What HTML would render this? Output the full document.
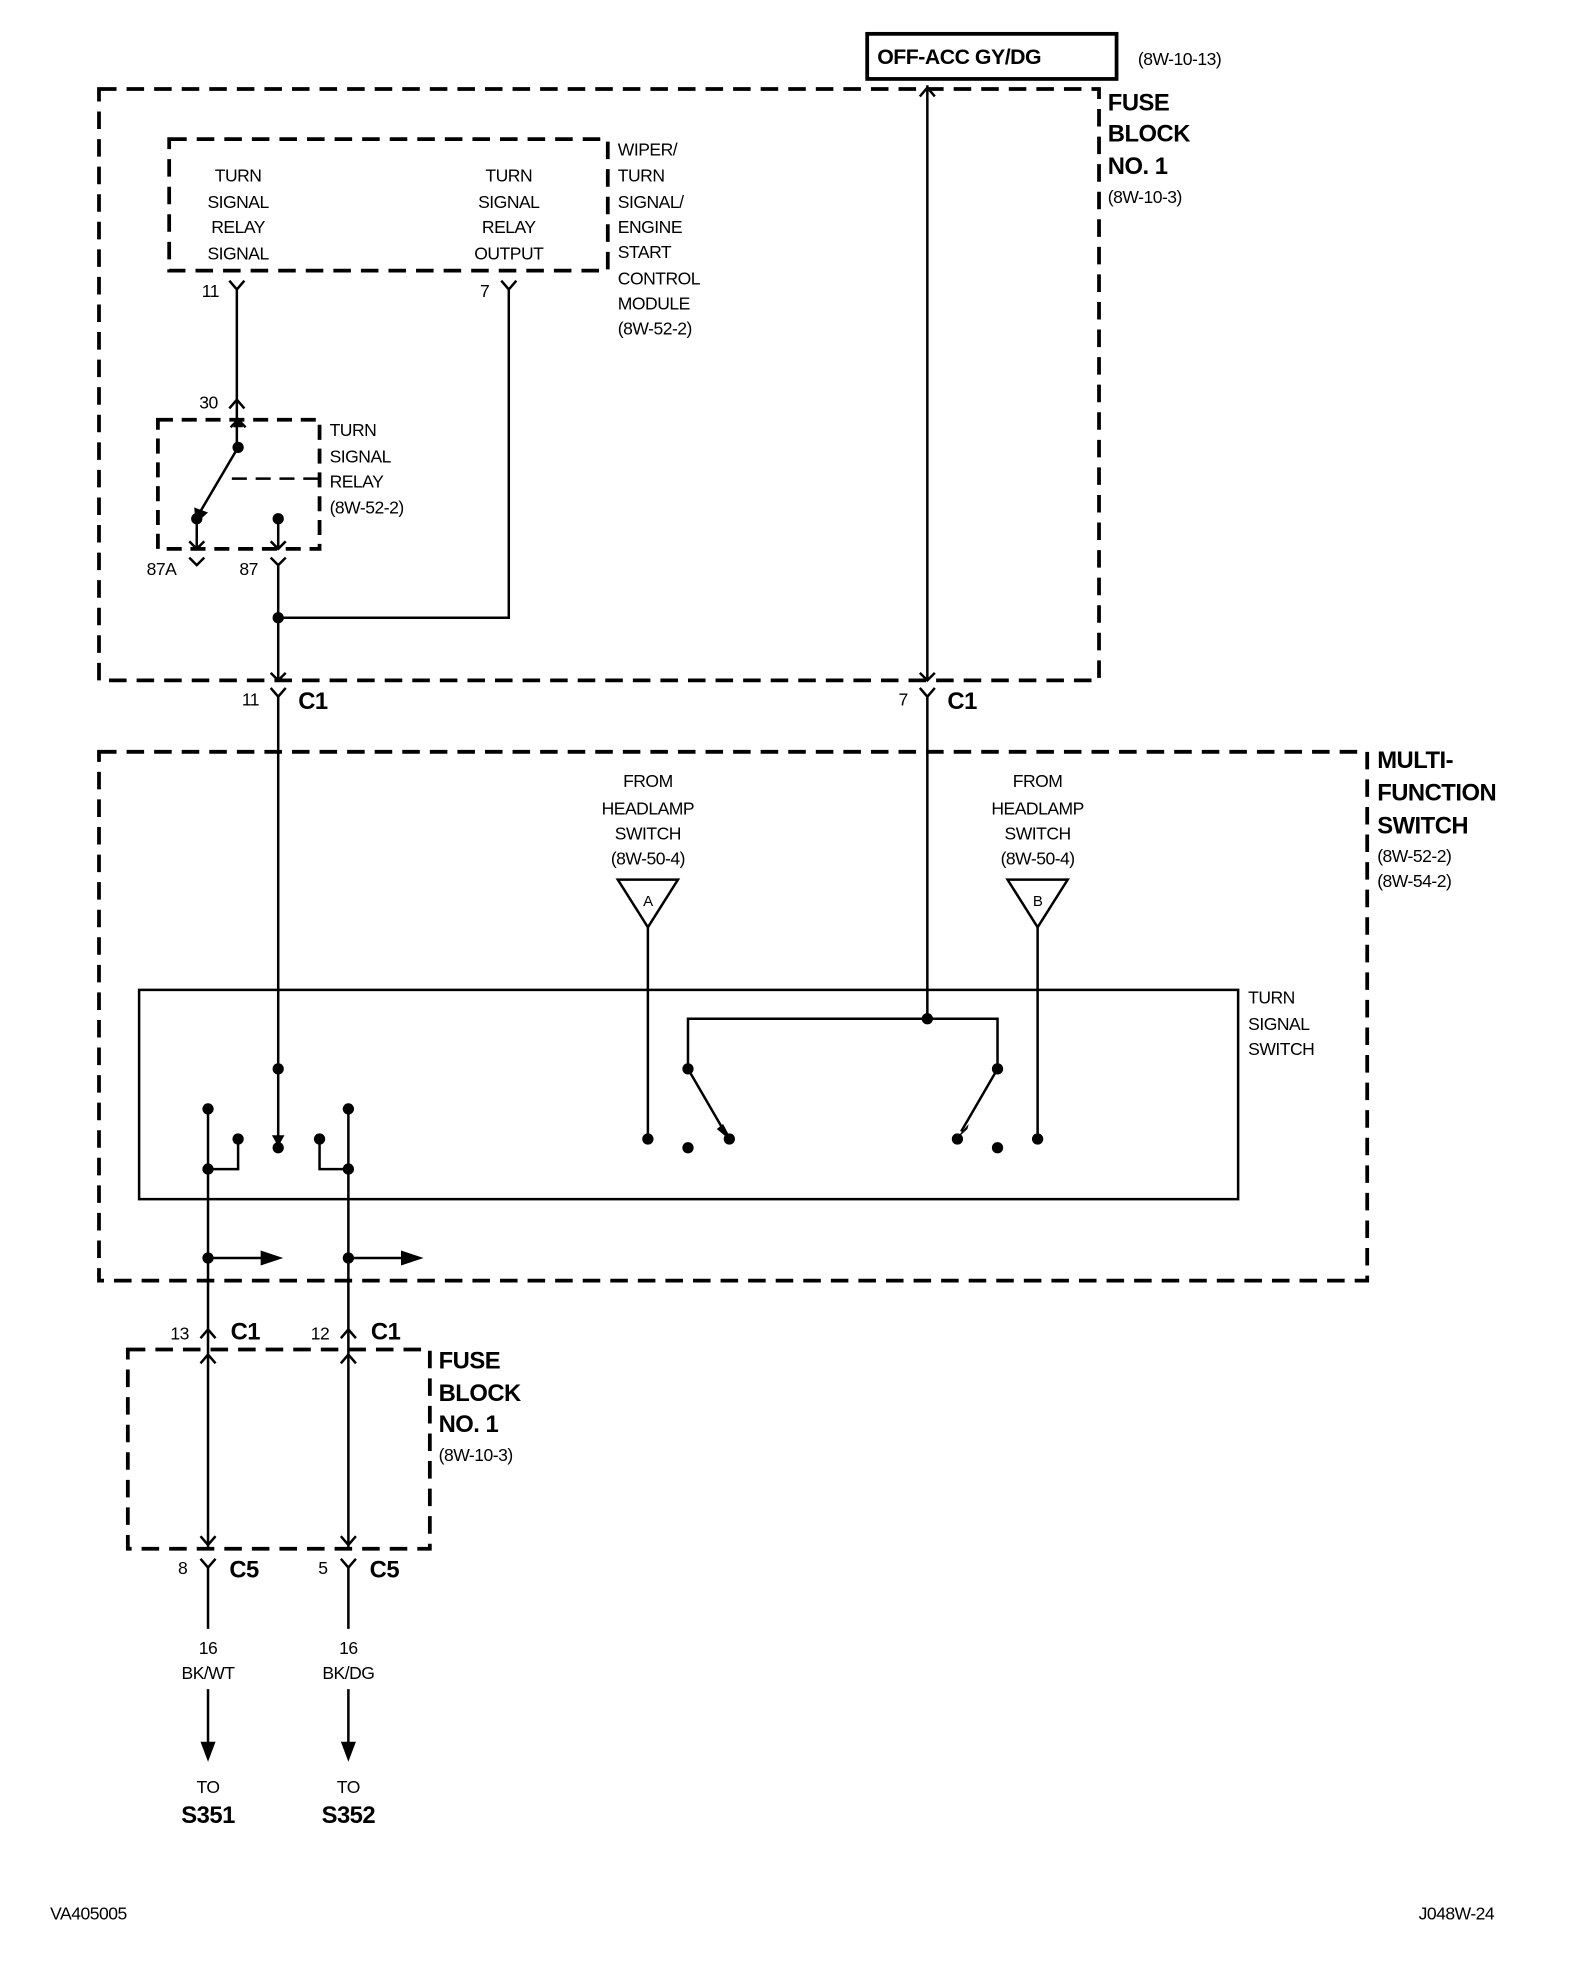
<!DOCTYPE html>
<html><head><meta charset="utf-8"><style>
html,body{margin:0;padding:0;background:#fff;}
svg{display:block}
text{font-family:"Liberation Sans Narrow","Liberation Sans",sans-serif;fill:#000;letter-spacing:-0.4px}
</style></head><body>
<svg width="1584" height="1966" viewBox="0 0 1264 1569" preserveAspectRatio="none" xmlns="http://www.w3.org/2000/svg">
<g fill="none" stroke="#000" stroke-width="3">
<rect x="692" y="27" width="199" height="36"/>
<rect x="79" y="71" width="798" height="472" stroke-dasharray="14 8"/>
<rect x="135" y="111" width="350" height="105" stroke-dasharray="14 8"/>
<rect x="126" y="335" width="129" height="103" stroke-dasharray="12 7"/>
<rect x="79" y="600" width="1012" height="422" stroke-dasharray="14 8"/>
<rect x="102" y="1077" width="241" height="159" stroke-dasharray="14 8"/>
</g>
<g fill="none" stroke="#000" stroke-width="2">
<line x1="185" y1="382" x2="255" y2="382" stroke-dasharray="12 7"/>
<rect x="111" y="790" width="877" height="167"/>
<path d="M183,224 L189,231 L195,224 M189,231 V323 M183,326 L189,319 L195,326 M189,319 V357"/>
<path d="M400,224 L406,231 L412,224 M406,231 V493 H222"/>
<path d="M184,341 L190,335 L196,341"/>
<path d="M190,357 L160,408"/>
<path d="M157,414 V438 M151,432 L157,438 L163,432"/>
<path d="M222,414 V438 M216,432 L222,438 L228,432"/>
<path d="M151,445 L157,451 L163,445"/>
<path d="M216,445 L222,451 L228,445 M222,451 V543 M216,537 L222,543 L228,537"/>
<path d="M216,549 L222,556 L228,549 M222,556 V912"/>
<path d="M740,68 V543 M734,77 L740,70 L746,77 M734,537 L740,543 L746,537"/>
<path d="M734,549 L740,556 L746,549 M740,556 V813 M549,853 V813 H796 V853"/>
<path d="M549,853 L578,903 M796,853 L767,903"/>
<path d="M517,740 V909 M828,740 V909"/>
<polygon points="493,702 541,702 517,740"/>
<polygon points="804,702 852,702 828,740"/>
<path d="M166,885 V1236 M190,909 V933 H166 M166,1004 H212"/>
<path d="M278,885 V1236 M255,909 V933 H278 M278,1004 H324"/>
<path d="M160,1068 L166,1061 L172,1068 M160,1088 L166,1081 L172,1088"/>
<path d="M272,1068 L278,1061 L284,1068 M272,1088 L278,1081 L284,1088"/>
<path d="M160,1226 L166,1233 L172,1226 M272,1226 L278,1233 L284,1226"/>
<path d="M160,1244 L166,1251 L172,1244 M166,1251 V1300 M166,1348 V1395 M272,1244 L278,1251 L284,1244 M278,1251 V1300 M278,1348 V1395"/>
</g>
<g fill="#000">
<polygon points="186,341 194,341 190,333"/>
<polygon points="155,405 166,409 156,418"/>
<polygon points="217,906 227,906 222,915"/>
<polygon points="572,901 585,912 577,897"/>
<polygon points="773,897 760,912 772,901"/>
<polygon points="208,998 226,1004 208,1010"/>
<polygon points="320,998 338,1004 320,1010"/>
<polygon points="160,1390 172,1390 166,1406"/>
<polygon points="272,1390 284,1390 278,1406"/>
<circle cx="190" cy="357" r="4.5"/><circle cx="157" cy="414" r="4.5"/><circle cx="222" cy="414" r="4.5"/>
<circle cx="222" cy="493" r="4.5"/><circle cx="222" cy="853" r="4.5"/><circle cx="222" cy="916" r="4.5"/>
<circle cx="740" cy="813" r="4.5"/><circle cx="549" cy="853" r="4.5"/><circle cx="796" cy="853" r="4.5"/>
<circle cx="517" cy="909" r="4.5"/><circle cx="549" cy="916" r="4.5"/><circle cx="582" cy="909" r="4.5"/>
<circle cx="764" cy="909" r="4.5"/><circle cx="796" cy="916" r="4.5"/><circle cx="828" cy="909" r="4.5"/>
<circle cx="166" cy="885" r="4.5"/><circle cx="190" cy="909" r="4.5"/><circle cx="166" cy="933" r="4.5"/><circle cx="166" cy="1004" r="4.5"/>
<circle cx="278" cy="885" r="4.5"/><circle cx="255" cy="909" r="4.5"/><circle cx="278" cy="933" r="4.5"/><circle cx="278" cy="1004" r="4.5"/>
</g>
<text x="700" y="51" font-size="17" font-weight="bold">OFF-ACC GY/DG</text>
<g font-size="19" font-weight="bold">
<text x="884" y="88">FUSE</text><text x="884" y="113">BLOCK</text><text x="884" y="139">NO. 1</text>
<text x="1099" y="613">MULTI-</text><text x="1099" y="639">FUNCTION</text><text x="1099" y="665">SWITCH</text>
<text x="350" y="1092">FUSE</text><text x="350" y="1118">BLOCK</text><text x="350" y="1143">NO. 1</text>
<text x="238" y="566">C1</text><text x="756" y="566">C1</text>
<text x="184" y="1069">C1</text><text x="296" y="1069">C1</text>
<text x="183" y="1259">C5</text><text x="295" y="1259">C5</text>
<text x="166" y="1455" text-anchor="middle">S351</text><text x="278" y="1455" text-anchor="middle">S352</text>
</g>
<g font-size="14">
<text x="908" y="52">(8W-10-13)</text>
<text x="884" y="162">(8W-10-3)</text>
<text x="350" y="1166">(8W-10-3)</text>
<text x="1099" y="688">(8W-52-2)</text><text x="1099" y="708">(8W-54-2)</text>
<g text-anchor="middle">
<text x="190" y="145">TURN</text><text x="190" y="166">SIGNAL</text><text x="190" y="186">RELAY</text><text x="190" y="207">SIGNAL</text>
<text x="406" y="145">TURN</text><text x="406" y="166">SIGNAL</text><text x="406" y="186">RELAY</text><text x="406" y="207">OUTPUT</text>
<text x="517" y="628">FROM</text><text x="517" y="650">HEADLAMP</text><text x="517" y="670">SWITCH</text><text x="517" y="690">(8W-50-4)</text>
<text x="828" y="628">FROM</text><text x="828" y="650">HEADLAMP</text><text x="828" y="670">SWITCH</text><text x="828" y="690">(8W-50-4)</text>
<text x="517" y="723" font-size="12">A</text><text x="828" y="723" font-size="12">B</text>
<text x="166" y="1320">16</text><text x="166" y="1340">BK/WT</text><text x="166" y="1431">TO</text>
<text x="278" y="1320">16</text><text x="278" y="1340">BK/DG</text><text x="278" y="1431">TO</text>
</g>
<text x="493" y="124">WIPER/</text><text x="493" y="145">TURN</text><text x="493" y="166">SIGNAL/</text><text x="493" y="186">ENGINE</text><text x="493" y="206">START</text><text x="493" y="227">CONTROL</text><text x="493" y="247">MODULE</text><text x="493" y="267">(8W-52-2)</text>
<text x="263" y="348">TURN</text><text x="263" y="369">SIGNAL</text><text x="263" y="389">RELAY</text><text x="263" y="410">(8W-52-2)</text>
<text x="996" y="801">TURN</text><text x="996" y="822">SIGNAL</text><text x="996" y="842">SWITCH</text>
<text x="161" y="237">11</text><text x="383" y="237">7</text>
<text x="159" y="326">30</text>
<text x="117" y="459">87A</text><text x="191" y="459">87</text>
<text x="193" y="563">11</text><text x="717" y="563">7</text>
<text x="136" y="1069">13</text><text x="248" y="1069">12</text>
<text x="142" y="1256">8</text><text x="254" y="1256">5</text>
<text x="40" y="1532">VA405005</text>
<text x="1132" y="1532">J048W-24</text>
</g>
</svg>
</body></html>
